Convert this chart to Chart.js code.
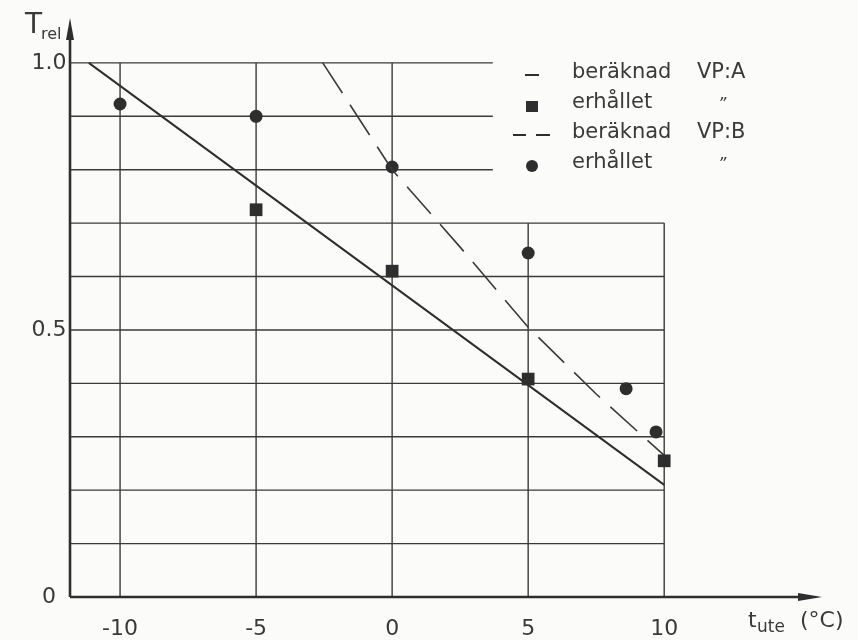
<!DOCTYPE html>
<html>
<head>
<meta charset="utf-8">
<script src="https://cdn.jsdelivr.net/npm/chart.js@4"></script>
<style>
body { margin: 0; background: #fbfbfa; }
</style>
</head>
<body>
<canvas id="chart" width="858" height="640"></canvas>
<script>
// values
var beraknadA = [{x: -11.15, y: 1.0}, {x: 10, y: 0.21}];
var erhalletA = [{x: -5, y: 0.725}, {x: 0, y: 0.61}, {x: 5, y: 0.408}, {x: 10, y: 0.255}];
var beraknadB = [{x: -2.55, y: 1.0}, {x: 0, y: 0.80}, {x: 2.5, y: 0.655}, {x: 5, y: 0.505}, {x: 7.5, y: 0.38}, {x: 10, y: 0.265}];
var erhalletB = [{x: -10, y: 0.923}, {x: -5, y: 0.90}, {x: 0, y: 0.805}, {x: 5, y: 0.644}, {x: 8.6, y: 0.39}, {x: 9.7, y: 0.309}];

var xTicks = [-10, -5, 0, 5, 10];
var yTicks = [0, 0.5, 1.0];
var yTickLabels = ['0', '0.5', '1.0'];
var gridRows = [0.1, 0.2, 0.3, 0.4, 0.5, 0.6, 0.7, 0.8, 0.9, 1.0];

var legendRows = [
    {mark: 'line', text: 'beräknad', tag: 'VP:A'},
    {mark: 'rect', text: 'erhållet', tag: '\u201D'},
    {mark: 'dash', text: 'beräknad', tag: 'VP:B'},
    {mark: 'circle', text: 'erhållet', tag: '\u201D'}
];

var ink = '#2e2e2e';
var font = '"DejaVu Sans", sans-serif';

var drawing = {
    id: 'drawing',
    beforeDatasetsDraw: function(chart) {
        var c = chart.ctx, xs = chart.scales.x, ys = chart.scales.y;
        c.save();
        c.strokeStyle = '#3a3a3a';
        c.lineWidth = 1.4;
        gridRows.forEach(function(v) {
            var end = v >= 0.8 ? 3.7 : 10;
            c.beginPath();
            c.moveTo(xs.getPixelForValue(xs.min), ys.getPixelForValue(v));
            c.lineTo(xs.getPixelForValue(end), ys.getPixelForValue(v));
            c.stroke();
        });
        xTicks.forEach(function(v) {
            var top = v >= 5 ? 0.7 : 1.0;
            c.beginPath();
            c.moveTo(xs.getPixelForValue(v), ys.getPixelForValue(0));
            c.lineTo(xs.getPixelForValue(v), ys.getPixelForValue(top));
            c.stroke();
        });
        c.restore();
    },
    afterDraw: function(chart) {
        var c = chart.ctx, xs = chart.scales.x, ys = chart.scales.y;
        var x0 = xs.getPixelForValue(xs.min), y0 = ys.getPixelForValue(0);
        var xEnd = xs.getPixelForValue(xs.max), yEnd = ys.getPixelForValue(ys.max);
        c.save();
        // axes with arrows
        c.strokeStyle = ink;
        c.fillStyle = ink;
        c.lineWidth = 2.6;
        c.beginPath();
        c.moveTo(x0, y0);
        c.lineTo(x0, yEnd + 10);
        c.moveTo(x0, y0);
        c.lineTo(xEnd - 12, y0);
        c.stroke();
        c.beginPath();
        c.moveTo(x0, yEnd);
        c.lineTo(x0 - 4, yEnd + 22);
        c.lineTo(x0 + 4, yEnd + 22);
        c.closePath();
        c.fill();
        c.beginPath();
        c.moveTo(xEnd, y0);
        c.lineTo(xEnd - 24, y0 - 4);
        c.lineTo(xEnd - 24, y0 + 4);
        c.closePath();
        c.fill();

        // tick labels
        c.fillStyle = '#3a3a3a';
        c.font = '22px ' + font;
        c.textAlign = 'center';
        c.textBaseline = 'middle';
        xTicks.forEach(function(v) {
            c.fillText(String(v), xs.getPixelForValue(v), y0 + 32);
        });
        yTicks.forEach(function(v, i) {
            c.fillText(yTickLabels[i], x0 - 21, ys.getPixelForValue(v));
        });

        // axis titles
        c.textAlign = 'left';
        c.font = '28px ' + font;
        c.fillText('T', 25, 26);
        c.font = '16px ' + font;
        c.fillText('rel', 41, 35);
        c.font = '22px ' + font;
        c.fillText('t', 748, y0 + 24);
        c.font = '17px ' + font;
        c.fillText('ute', 757, y0 + 31);
        c.font = '22px ' + font;
        c.fillText('(°C)', 800, y0 + 24);

        // legend
        var lx = 532, tx = 572, gx = 697, ly = 73, step = 30;
        legendRows.forEach(function(r, i) {
            var y = ly + i * step;
            c.strokeStyle = ink;
            c.fillStyle = ink;
            c.lineWidth = 2;
            if (r.mark === 'line') {
                c.beginPath(); c.moveTo(lx - 7, y + 2); c.lineTo(lx + 7, y + 2); c.stroke();
            } else if (r.mark === 'dash') {
                c.beginPath();
                c.moveTo(lx - 19, y + 2); c.lineTo(lx - 6, y + 2);
                c.moveTo(lx + 4, y + 2); c.lineTo(lx + 18, y + 2);
                c.stroke();
            } else if (r.mark === 'rect') {
                c.fillRect(lx - 6, y - 2, 12, 11);
            } else {
                c.beginPath(); c.arc(lx, y + 3, 6, 0, Math.PI * 2); c.fill();
            }
            c.fillStyle = '#3a3a3a';
            c.font = '21px ' + font;
            c.textAlign = 'left';
            c.fillText(r.text, tx, y);
            if (r.tag.length > 1) {
                c.fillText(r.tag, gx, y);
            } else {
                c.font = 'italic 16px ' + font;
                c.fillText(r.tag, 718, y + 2);
            }
        });
        c.restore();
    }
};

var ctx = document.getElementById('chart').getContext('2d');
var chart = new Chart(ctx, {
    type: 'scatter',
    data: {
        datasets: [{
            label: 'beräknad VP:A',
            data: beraknadA,
            showLine: true,
            borderColor: ink,
            borderWidth: 2,
            pointRadius: 0
        }, {
            label: 'erhållet VP:A',
            data: erhalletA,
            pointStyle: 'rect',
            pointRadius: 9,
            backgroundColor: ink,
            borderWidth: 0
        }, {
            label: 'beräknad VP:B',
            data: beraknadB,
            showLine: true,
            borderColor: '#3a3a3a',
            borderWidth: 1.6,
            borderDash: [36, 14],
            pointRadius: 0
        }, {
            label: 'erhållet VP:B',
            data: erhalletB,
            pointStyle: 'circle',
            pointRadius: 6.5,
            backgroundColor: ink,
            borderWidth: 0
        }]
    },
    options: {
        responsive: false,
        animation: false,
        layout: {
            padding: {left: 70, right: 36, top: 18, bottom: 43}
        },
        plugins: {
            legend: {display: false},
            tooltip: {enabled: false}
        },
        scales: {
            x: {type: 'linear', min: -11.84, max: 15.8, display: false},
            y: {type: 'linear', min: 0, max: 1.084, display: false}
        }
    },
    plugins: [drawing]
});
</script>
</body>
</html>
